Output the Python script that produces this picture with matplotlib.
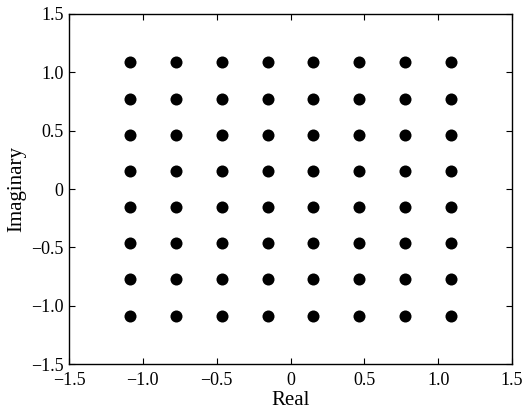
import numpy as np
import matplotlib
matplotlib.use('Agg')
import matplotlib.pyplot as plt

# 64-QAM constellation levels
i_levels = [-1.085, -0.775, -0.465, -0.155, 0.155, 0.465, 0.775, 1.085]
q_levels = [-1.085, -0.775, -0.465, -0.155, 0.155, 0.465, 0.775, 1.085]

ticks = [-1.5, -1.0, -0.5, 0, 0.5, 1.0, 1.5]
tick_labels = ['\u22121.5', '\u22121.0', '\u22120.5', '0', '0.5', '1.0', '1.5']

plt.rcParams['font.family'] = ['Liberation Serif', 'DejaVu Serif']
plt.rcParams['font.size'] = 13

fig = plt.figure(figsize=(5.23, 4.2), dpi=100)
ax = fig.add_axes([0.132, 0.133, 0.847, 0.834])

ii, qq = np.meshgrid(i_levels, q_levels)
ax.scatter(ii.ravel(), qq.ravel(), s=75, c='black', marker='o', linewidths=0)

ax.set_xlim(-1.5, 1.5)
ax.set_ylim(-1.5, 1.5)
ax.set_xticks(ticks)
ax.set_xticklabels(tick_labels)
ax.set_yticks(ticks)
ax.set_yticklabels(tick_labels)
ax.tick_params(direction='in', top=True, right=True, length=4, width=0.8)
ax.tick_params(axis='x', pad=6)
ax.tick_params(axis='y', pad=4)
for s in ax.spines.values():
    s.set_linewidth(1.0)

ax.set_xlabel('Real', fontsize=15, labelpad=1)
ax.set_ylabel('Imaginary', fontsize=15, labelpad=3)

fig.savefig('out.png', dpi=100)
